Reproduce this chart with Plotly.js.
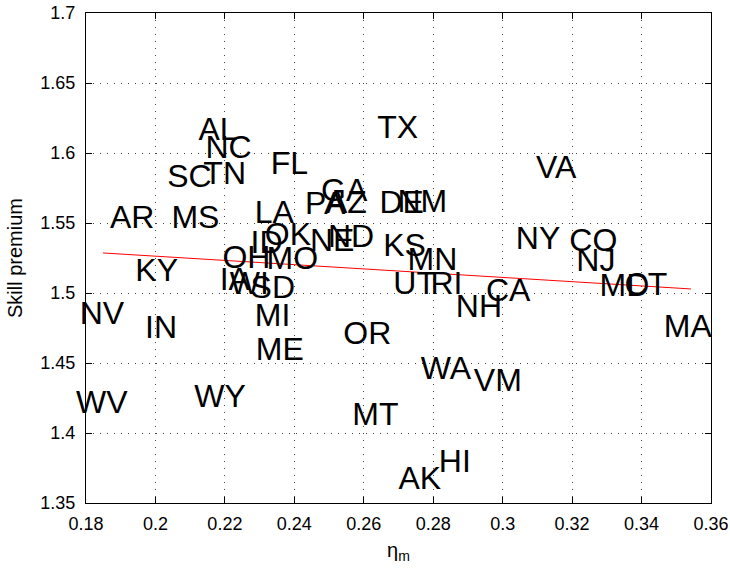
<!DOCTYPE html>
<html>
<head>
<meta charset="utf-8">
<script src="https://cdn.plot.ly/plotly-3.0.1.min.js"></script>
<style>html,body{margin:0;padding:0;background:#fff;}#chart{width:730px;height:572px;}</style>
</head>
<body>
<div id="chart"></div>
<script>
// State labels and their positions (eta_m, skill premium)
const states = ["AL","NC","SC","TN","AR","MS","LA","KY","OH","ID","OK","MO","NE","ND","IA","WI","SD","MI","ME","NV","IN","WV","WY","FL","TX","GA","PA","AZ","DE","NM","KS","MN","UT","RI","NH","CA","VA","NY","CO","NJ","MD","CT","MA","OR","WA","VM","MT","AK","HI"];
const etaM = [0.2124,0.2144,0.2034,0.2138,0.1869,0.2046,0.2286,0.1942,0.2193,0.2274,0.2315,0.2320,0.2445,0.2497,0.2185,0.2214,0.2274,0.2286,0.2289,0.1782,0.1970,0.1771,0.2112,0.2332,0.2639,0.2477,0.2431,0.2491,0.2645,0.2697,0.2656,0.2726,0.2685,0.2792,0.2865,0.2952,0.3096,0.3038,0.3192,0.3212,0.3279,0.3351,0.3464,0.2541,0.2764,0.2917,0.2567,0.2700,0.2816];
const skill = [1.6150,1.6022,1.5815,1.5836,1.5522,1.5522,1.5558,1.5143,1.5236,1.5343,1.5400,1.5229,1.5358,1.5386,1.5079,1.5050,1.5022,1.4822,1.4579,1.4836,1.4736,1.4200,1.4243,1.5908,1.6165,1.5715,1.5622,1.5629,1.5629,1.5636,1.5322,1.5222,1.5050,1.5050,1.4886,1.5000,1.5879,1.5372,1.5358,1.5215,1.5036,1.5043,1.4743,1.4693,1.4443,1.4358,1.4115,1.3658,1.3779];
// Fitted line end points
const fitX = [0.1849, 0.3542];
const fitY = [1.5286, 1.5029];
const xTicks = [0.18,0.2,0.22,0.24,0.26,0.28,0.3,0.32,0.34,0.36];
const xTickText = ["0.18","0.2","0.22","0.24","0.26","0.28","0.3","0.32","0.34","0.36"];
const yTicks = [1.35,1.4,1.45,1.5,1.55,1.6,1.65,1.7];
const yTickText = ["1.35","1.4","1.45","1.5","1.55","1.6","1.65","1.7"];
const xRange = [0.18, 0.36];
const yRange = [1.35, 1.7];

// Geometry: the labels sit on a separate invisible subplot (x2, y2) whose x axis
// extends a few pixels left of the visible axis with the identical scale, so the
// labels anchored just left of 0.18 (NV, WV) are still drawn unclipped.
const W = 730, H = 572, ML = 66, MR = 19, MT = 13, MB = 69;
const PAD = 20;
const plotW = W - ML - MR;
const axisW = plotW - PAD;
const perPx = (xRange[1] - xRange[0]) / axisW;
const x2Range = [xRange[0] - PAD * perPx, xRange[1]];

const FONT = "Liberation Sans, Arial, sans-serif";
const traces = [
  {
    x: fitX, y: fitY, mode: "lines", type: "scatter", xaxis: "x", yaxis: "y",
    line: {color: "#ff0000", width: 1}, showlegend: false
  },
  {
    x: etaM, y: skill, text: states, mode: "text", type: "scatter",
    xaxis: "x2", yaxis: "y2",
    textposition: "middle right",
    textfont: {family: FONT, size: 32, color: "#000"},
    hoverinfo: "text", cliponaxis: false, showlegend: false
  }
];
const axisCommon = {
  showline: true, linecolor: "#000", linewidth: 1, mirror: "ticks",
  ticks: "inside", ticklen: 6, tickcolor: "#000",
  showgrid: true, gridcolor: "#444", gridwidth: 1, griddash: "1px,6px",
  zeroline: false, tickmode: "array",
  tickfont: {family: FONT, size: 18, color: "#000"}
};
const layout = {
  width: W, height: H,
  margin: {l: ML, r: MR, t: MT, b: MB},
  paper_bgcolor: "#fff", plot_bgcolor: "rgba(0,0,0,0)",
  xaxis: Object.assign({}, axisCommon, {
    domain: [PAD / plotW, 1], anchor: "y",
    range: xRange, tickvals: xTicks, ticktext: xTickText,
    ticklabelstandoff: 4,
    title: {text: "η<sub>m</sub>", font: {family: FONT, size: 20, color: "#000"}, standoff: 10}
  }),
  yaxis: Object.assign({}, axisCommon, {
    domain: [0, 1], anchor: "x",
    range: yRange, tickvals: yTicks, ticktext: yTickText,
    ticklabelstandoff: 6,
    title: {text: "Skill premium", font: {family: FONT, size: 20, color: "#000"}, standoff: 12}
  }),
  xaxis2: {
    domain: [0, 1], range: x2Range, anchor: "y2",
    visible: false, showgrid: false, zeroline: false, fixedrange: true
  },
  yaxis2: {
    domain: [0, 1], range: yRange, anchor: "x2",
    visible: false, showgrid: false, zeroline: false, fixedrange: true
  },
  font: {family: FONT}
};
Plotly.newPlot("chart", traces, layout, {displayModeBar: false, staticPlot: true});
</script>
</body>
</html>
